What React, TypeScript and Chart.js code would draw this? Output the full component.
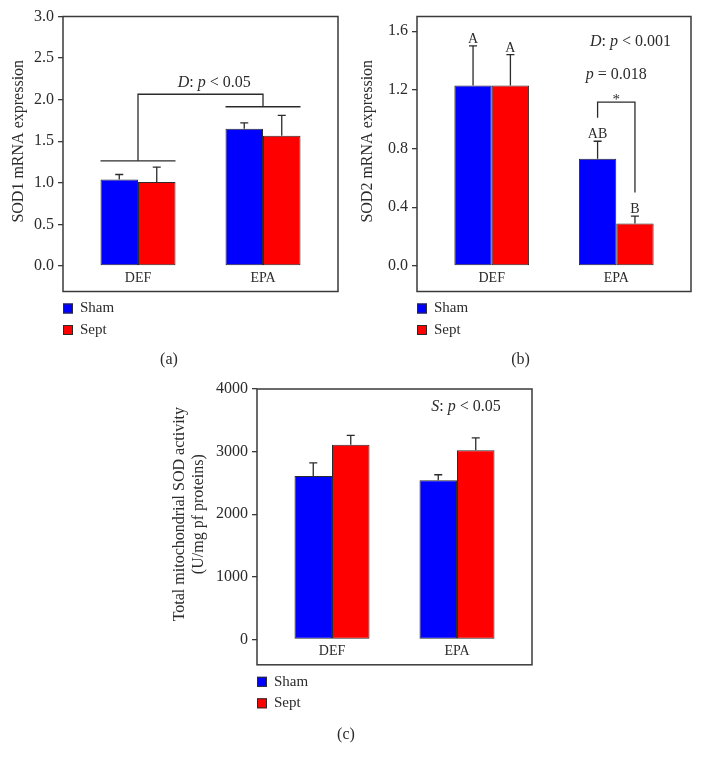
import React, { useEffect, useRef } from "react";
import { Chart, registerables } from "chart.js";

Chart.register(...registerables);

const SERIF = '"Liberation Serif", "Times New Roman", serif';
const INK = "#2b2b2b";

// ---------- data ----------
const categories = ["DEF", "EPA"];
const seriesNames = ["Sham", "Sept"];
const seriesColors = ["#0000FF", "#FF0000"];

// (a) SOD1 mRNA expression (mean, mean + SD)
const sod1Sham = [1.04, 1.65];
const sod1Sept = [1.01, 1.565];
const sod1ShamTop = [1.1, 1.72];
const sod1SeptTop = [1.19, 1.81];
const sod1Ticks = [0, 0.5, 1.0, 1.5, 2.0, 2.5, 3.0];

// (b) SOD2 mRNA expression
const sod2Sham = [1.23, 0.73];
const sod2Sept = [1.23, 0.29];
const sod2ShamTop = [1.5, 0.85];
const sod2SeptTop = [1.44, 0.34];
const sod2ShamLetters = ["A", "AB"];
const sod2SeptLetters = ["A", "B"];
const sod2Ticks = [0, 0.4, 0.8, 1.2, 1.6];

// (c) Total mitochondrial SOD activity
const sodShamAct = [2610, 2540];
const sodSeptAct = [3110, 3020];
const sodShamActTop = [2820, 2630];
const sodSeptActTop = [3260, 3220];
const sodActTicks = [0, 1000, 2000, 3000, 4000];

// ---------- helpers ----------
type Txt = { text: string; x: number; y: number; align: "left" | "center" | "right"; size: number };
type Spec = {
  left: number; top: number; width: number; height: number;
  sham: number[]; sept: number[]; shamTop: number[]; septTop: number[];
  letters?: string[][];
  yMax: number; yTicks: number[]; fmt: (v: number) => string;
  yTitle: string | string[]; yTitlePad: number; yTitleLH: number; yWidth: number;
  padTop: number; padRight: number;
  caption: string; capTop: number; capBottom: number;
  lines: number[][][]; texts: Txt[];
};

function drawRich(ctx: CanvasRenderingContext2D, text: string, x: number, y: number, align: string, size: number) {
  const parts = text.split("_");
  const segs = parts.map((t, k) => ({ t, font: `${k % 2 === 1 ? "italic " : ""}${size}px ${SERIF}` })).filter((s) => s.t.length);
  let total = 0;
  const widths = segs.map((s) => {
    ctx.font = s.font;
    const w = ctx.measureText(s.t).width;
    total += w;
    return w;
  });
  let cx = align === "center" ? x - total / 2 : align === "right" ? x - total : x;
  ctx.textAlign = "left";
  ctx.textBaseline = "middle";
  segs.forEach((s, k) => {
    ctx.font = s.font;
    ctx.fillText(s.t, cx, y);
    cx += widths[k];
  });
}

function makeExtras(spec: Spec) {
  return {
    id: "extras",
    afterDatasetsDraw(chart: any) {
      const ctx: CanvasRenderingContext2D = chart.ctx;
      const xs = chart.scales.x;
      const ys = chart.scales.y;
      const ca = chart.chartArea;
      ctx.save();
      ctx.strokeStyle = INK;
      ctx.fillStyle = INK;
      ctx.lineWidth = 1.3;
      // error bars + letters
      [spec.shamTop, spec.septTop].forEach((tops, di) => {
        const meta = chart.getDatasetMeta(di);
        tops.forEach((v, j) => {
          const bar = meta.data[j];
          const yt = ys.getPixelForValue(v);
          ctx.beginPath();
          ctx.moveTo(bar.x, bar.y);
          ctx.lineTo(bar.x, yt);
          ctx.moveTo(bar.x - 4, yt);
          ctx.lineTo(bar.x + 4, yt);
          ctx.stroke();
          const letter = spec.letters?.[di]?.[j];
          if (letter) {
            ctx.font = `14px ${SERIF}`;
            ctx.textAlign = "center";
            ctx.textBaseline = "alphabetic";
            ctx.fillText(letter, bar.x, yt - 3);
          }
        });
      });
      // brackets
      spec.lines.forEach((pts) => {
        ctx.beginPath();
        pts.forEach(([vx, vy], k) => {
          const px = xs.getPixelForValue(vx);
          const py = ys.getPixelForValue(vy);
          if (k === 0) ctx.moveTo(px, py);
          else ctx.lineTo(px, py);
        });
        ctx.stroke();
      });
      // annotation texts
      spec.texts.forEach((t) => {
        drawRich(ctx, t.text, xs.getPixelForValue(t.x), ys.getPixelForValue(t.y), t.align, t.size);
      });
      // frame
      ctx.lineWidth = 1.5;
      ctx.strokeStyle = "#3a3a3a";
      ctx.strokeRect(ca.left, ca.top, ca.right - ca.left, xs.bottom - ca.top);
      // legend
      chart.data.datasets.forEach((ds: any, k: number) => {
        const cy = xs.bottom + 17 + k * 21.5;
        ctx.fillStyle = ds.backgroundColor;
        ctx.fillRect(ca.left, cy - 5, 10, 10);
        ctx.lineWidth = 1;
        ctx.strokeStyle = INK;
        ctx.strokeRect(ca.left + 0.5, cy - 4.5, 9, 9);
        ctx.fillStyle = INK;
        ctx.font = `15px ${SERIF}`;
        ctx.textAlign = "left";
        ctx.textBaseline = "middle";
        ctx.fillText(ds.label, ca.left + 17, cy);
      });
      ctx.restore();
    },
  };
}

function buildConfig(spec: Spec): any {
  const ds = (k: number, vals: number[]) => ({
    label: seriesNames[k],
    data: categories.map((_, i) => ({ x: i, y: vals[i] })),
    backgroundColor: seriesColors[k],
    borderColor: INK,
    borderWidth: 1,
    borderSkipped: false,
    categoryPercentage: 0.6,
    barPercentage: 1,
  });
  return {
    type: "bar",
    data: { datasets: [ds(0, spec.sham), ds(1, spec.sept)] },
    options: {
      responsive: false,
      animation: false,
      layout: { padding: { top: spec.padTop, right: spec.padRight, left: 0, bottom: 0 } },
      plugins: {
        legend: { display: false },
        tooltip: { enabled: false },
        title: {
          display: true,
          text: spec.caption,
          position: "bottom",
          color: INK,
          font: { family: SERIF, size: 16, weight: "normal", lineHeight: 1.2 },
          padding: { top: spec.capTop, bottom: spec.capBottom },
        },
      },
      scales: {
        x: {
          type: "linear",
          min: -0.6,
          max: 1.6,
          offset: false,
          afterBuildTicks: (s: any) => {
            s.ticks = categories.map((_, i) => ({ value: i }));
          },
          ticks: {
            callback: (v: any) => categories[v] ?? "",
            font: { family: SERIF, size: 14 },
            color: INK,
            padding: 4,
            maxRotation: 0,
            autoSkip: false,
          },
          grid: { display: false, drawTicks: false, offset: false },
          border: { display: false },
          afterFit: (s: any) => {
            s.height = 25.5;
          },
        },
        y: {
          type: "linear",
          min: 0,
          max: spec.yMax,
          afterBuildTicks: (s: any) => {
            s.ticks = spec.yTicks.map((v) => ({ value: v }));
          },
          ticks: {
            callback: (v: any) => spec.fmt(Number(v)),
            font: { family: SERIF, size: 16 },
            color: INK,
            padding: 4,
          },
          grid: { drawOnChartArea: false, drawTicks: true, tickLength: 5, color: "#3a3a3a", lineWidth: 1.3 },
          border: { display: false },
          title: {
            display: true,
            text: spec.yTitle,
            color: INK,
            font: { family: SERIF, size: 16, lineHeight: spec.yTitleLH },
            padding: { top: spec.yTitlePad, bottom: 0 },
          },
          afterFit: (s: any) => {
            s.width = spec.yWidth;
          },
        },
      },
    },
    plugins: [makeExtras(spec)],
  };
}

const specA: Spec = {
  left: 0, top: 0, width: 342, height: 372,
  sham: sod1Sham, sept: sod1Sept, shamTop: sod1ShamTop, septTop: sod1SeptTop,
  yMax: 3, yTicks: sod1Ticks, fmt: (v) => v.toFixed(1),
  yTitle: "SOD1 mRNA expression", yTitlePad: 9.4, yTitleLH: 1.2, yWidth: 63,
  padTop: 16.5, padRight: 4,
  caption: "(a)", capTop: 58.9, capBottom: 2.4,
  lines: [
    [[-0.3, 1.265], [0.3, 1.265]],
    [[0.7, 1.915], [1.3, 1.915]],
    [[0, 1.265], [0, 2.065], [1.0, 2.065], [1.0, 1.915]],
  ],
  texts: [{ text: "_D_: _p_ < 0.05", x: 0.61, y: 2.2, align: "center", size: 16 }],
};

const specB: Spec = {
  left: 350, top: 0, width: 344, height: 372,
  sham: sod2Sham, sept: sod2Sept, shamTop: sod2ShamTop, septTop: sod2SeptTop,
  letters: [sod2ShamLetters, sod2SeptLetters],
  yMax: 1.7, yTicks: sod2Ticks, fmt: (v) => v.toFixed(1),
  yTitle: "SOD2 mRNA expression", yTitlePad: 7.9, yTitleLH: 1.2, yWidth: 67,
  padTop: 16.5, padRight: 3,
  caption: "(b)", capTop: 58.9, capBottom: 2.4,
  lines: [[[0.85, 1.01], [0.85, 1.117], [1.15, 1.117], [1.15, 0.5]]],
  texts: [
    { text: "*", x: 1.0, y: 1.13, align: "center", size: 15 },
    { text: "_p_ = 0.018", x: 1.0, y: 1.3, align: "center", size: 16 },
    { text: "_D_: _p_ < 0.001", x: 1.44, y: 1.53, align: "right", size: 16 },
  ],
};

const specC: Spec = {
  left: 160, top: 372, width: 376, height: 395,
  sham: sodShamAct, sept: sodSeptAct, shamTop: sodShamActTop, septTop: sodSeptActTop,
  yMax: 4000, yTicks: sodActTicks, fmt: (v) => String(Math.round(v)),
  yTitle: ["Total mitochondrial SOD activity", "(U/mg pf proteins)"], yTitlePad: 10.8, yTitleLH: 1.15, yWidth: 97,
  padTop: 17, padRight: 4,
  caption: "(c)", capTop: 60.6, capBottom: 22.4,
  lines: [],
  texts: [{ text: "_S_: _p_ < 0.05", x: 1.35, y: 3710, align: "right", size: 16 }],
};

function Panel({ spec }: { spec: Spec }) {
  const ref = useRef<HTMLCanvasElement>(null);
  useEffect(() => {
    const chart = new Chart(ref.current as HTMLCanvasElement, buildConfig(spec));
    return () => chart.destroy();
  }, [spec]);
  return (
    <canvas
      ref={ref}
      width={spec.width}
      height={spec.height}
      style={{ position: "absolute", left: spec.left, top: spec.top, width: spec.width, height: spec.height }}
    />
  );
}

export default function App() {
  return (
    <div style={{ position: "absolute", left: 0, top: 0, width: 702, height: 767, background: "#ffffff" }}>
      <Panel spec={specA} />
      <Panel spec={specB} />
      <Panel spec={specC} />
    </div>
  );
}
